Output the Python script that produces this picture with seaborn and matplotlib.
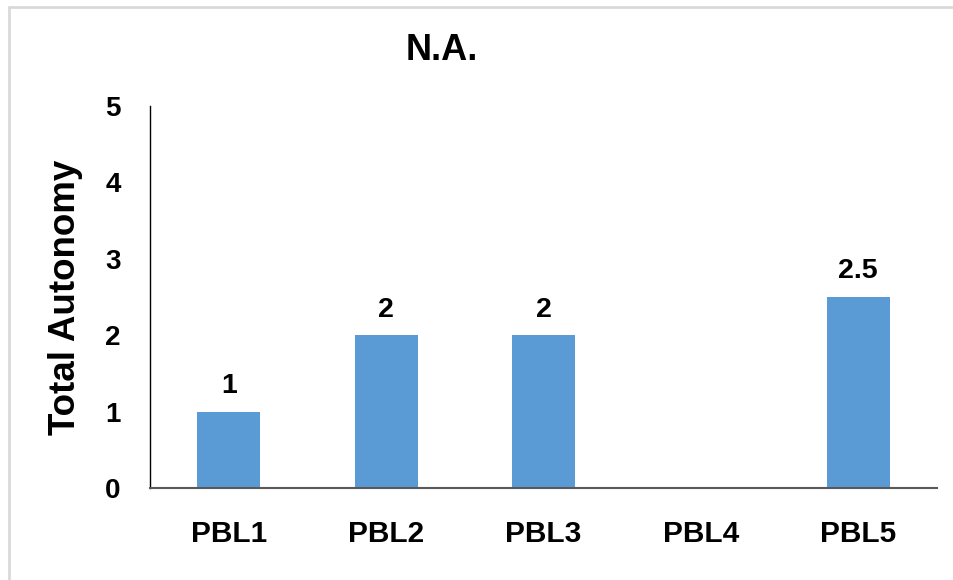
import numpy as np
import pandas as pd
import matplotlib
matplotlib.use('Agg')
import matplotlib.pyplot as plt
import seaborn as sns
from matplotlib.lines import Line2D

# data
groups = ['PBL1', 'PBL2', 'PBL3', 'PBL4', 'PBL5']
autonomy = [1, 2, 2, np.nan, 2.5]
yticks = [0, 1, 2, 3, 4, 5]

df = pd.DataFrame({'group': groups, 'autonomy': autonomy})

sns.set_style('white')
plt.rcParams['font.family'] = ['Liberation Sans', 'DejaVu Sans']
plt.rcParams['font.weight'] = 'bold'
plt.rcParams['text.color'] = 'black'
plt.rcParams['axes.labelcolor'] = 'black'
plt.rcParams['xtick.color'] = 'black'
plt.rcParams['ytick.color'] = 'black'

fig = plt.figure(figsize=(9.54, 5.8), dpi=100)
ax = fig.add_axes([150/954, 1 - 488/580, 787/954, 382/580])

sns.barplot(data=df, x='group', y='autonomy', color='#5b9bd5', width=0.4,
            saturation=1, edgecolor='none', ax=ax)

for i, v in enumerate(autonomy):
    if np.isnan(v):
        continue
    ax.annotate(f'{v:g}', (i, v), xytext=(0, 9), textcoords='offset points',
                ha='center', va='bottom', fontsize=20.5, fontweight='bold')

ax.set_xlim(-0.5, 4.5)
ax.set_ylim(0, 5)
ax.set_yticks(yticks)
ax.tick_params(axis='y', length=0, pad=21, labelsize=20)
ax.tick_params(axis='x', length=0, pad=23, labelsize=21.5)
for lab in ax.get_xticklabels() + ax.get_yticklabels():
    lab.set_fontweight('bold')
ax.set_xlabel('')
ax.set_ylabel('Total Autonomy', fontsize=26.5, fontweight='bold', labelpad=16)

for s in ['top', 'right']:
    ax.spines[s].set_visible(False)
ax.spines['left'].set_color('black')
ax.spines['left'].set_linewidth(1.0)
ax.spines['bottom'].set_color('#595959')
ax.spines['bottom'].set_linewidth(1.5)

fig.text(442/954, 1 - 50/580, 'N.A.', ha='center', va='center',
         fontsize=26, fontweight='bold')

# light frame round the chart (top and left only)
fig.add_artist(Line2D([9/954, 1], [1 - 7/580, 1 - 7/580], color='#d9d9d9', lw=2,
                      transform=fig.transFigure))
fig.add_artist(Line2D([9/954, 9/954], [0, 1 - 7/580], color='#d9d9d9', lw=2,
                      transform=fig.transFigure))

fig.savefig('out.png', dpi=100)
